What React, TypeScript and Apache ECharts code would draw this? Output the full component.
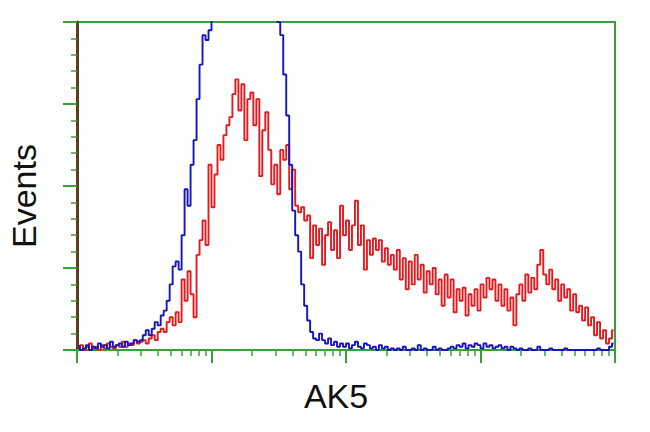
import React, { useEffect, useRef } from "react";
import * as echarts from "echarts";

// Histogram counts per channel bin (180 bins spread evenly over 4 log decades)
const redCounts = [
  1, 3, 0, 2, 4, 1, 2, 0, 3, 1, 4, 2, 1, 3, 2, 5, 2, 4, 3, 6, 4,
  5, 6, 4, 7, 9, 6, 11, 13, 11, 17,
  20, 15, 23, 17, 43, 30, 48, 34, 20, 58,
  67, 79, 64, 113, 87, 107, 125, 116, 131, 137,
  142, 156, 165, 146, 162, 128, 153, 157, 137, 153,
  106, 134, 145, 122, 101, 113, 95, 122, 116, 125,
  98, 110, 88, 84, 87, 79, 82, 56, 76, 64,
  74, 52, 70, 78, 61, 73, 56, 88, 70, 79,
  61, 76, 91, 64, 76, 49, 67, 58, 68, 61,
  67, 54, 62, 52, 58, 49, 61, 43, 56, 37,
  54, 40, 58, 43, 52, 35, 48, 40, 50, 34,
  43, 27, 46, 32, 43, 23, 37, 30, 38, 21,
  34, 27, 37, 24, 40, 32, 44, 37, 43, 30,
  40, 27, 37, 24, 32, 15, 34, 40, 30, 46,
  35, 44, 37, 52, 61, 46, 40, 49, 37, 43,
  30, 40, 32, 37, 24, 34, 23, 27, 18, 26,
  15, 20, 9, 17, 7, 12, 4, 7, 12,
];

const blueCounts = [
  2, 0, 1, 3, 0, 2, 1, 4, 2, 3, 1, 5, 2, 3, 4, 2, 5, 3, 4, 6, 5,
  6, 9, 12, 9, 13, 17, 15, 21, 24, 30,
  40, 51, 54, 49, 70, 98, 88, 113, 128, 153,
  174, 192, 189, 195, 204, 215, 225, 230, 240, 235,
  245, 250, 240, 248, 255, 250, 245, 252, 240, 245,
  238, 230, 235, 225, 220, 215, 200, 192, 168, 143,
  113, 85, 70, 60, 40, 27, 18, 11, 7, 6,
  10, 6, 4, 7, 3, 5, 2, 4, 2, 4,
  1, 3, 5, 2, 1, 4, 3, 1, 2, 0,
  3, 1, 2, 0, 1, 0, 1, 0, 2, 0,
  0, 1, 0, 3, 0, 1, 0, 0, 2, 0,
  1, 0, 0, 1, 2, 1, 3, 2, 4, 1,
  3, 2, 4, 3, 1, 4, 2, 3, 1, 2,
  3, 1, 2, 0, 2, 1, 0, 1, 0, 0,
  1, 0, 0, 2, 0, 0, 0, 1, 0, 0,
  0, 0, 1, 0, 0, 0, 0, 0, 0, 0,
  0, 0, 0, 1, 0, 0, 0, 2, 4,
];

const decadeTicks = [0, 1, 2, 3, 4];
const minorMultipliers = [2, 3, 4, 5, 6, 7, 8, 9];
const yMin = 0;
const yMax = 200;
const yInterval = 50;
const xTitle = "AK5";
const yTitle = "Events";

const GREEN = "#38a038";
const BROWN = "#5e4018";
const RED = "#e3191e";
const BLUE = "#1414c0";
const FONT = "'Liberation Sans', Arial, Helvetica, sans-serif";

function toPoints(counts: number[]) {
  const n = counts.length;
  const span = decadeTicks[decadeTicks.length - 1] - decadeTicks[0];
  return counts.map((v, i) => [decadeTicks[0] + ((i + 0.5) * span) / n, v]);
}

const minorTicks: number[] = [];
for (let d = 0; d < decadeTicks.length - 1; d++) {
  for (const k of minorMultipliers) minorTicks.push(decadeTicks[d] + Math.log10(k));
}

export default function App() {
  const ref = useRef<HTMLDivElement>(null);
  useEffect(() => {
    if (!ref.current) return;
    const chart = echarts.init(ref.current, undefined, { renderer: "svg" });
    const gridBox = { left: 77, right: 35, top: 22, bottom: 82 };
    chart.setOption({
      animation: false,
      backgroundColor: "#ffffff",
      grid: [
        { ...gridBox, show: true, borderColor: GREEN, borderWidth: 2, backgroundColor: "transparent" },
        { ...gridBox, show: false },
      ],
      xAxis: [
        {
          gridIndex: 0,
          type: "value",
          min: decadeTicks[0],
          max: decadeTicks[decadeTicks.length - 1],
          position: "bottom",
          axisLine: { show: true, lineStyle: { color: GREEN, width: 2 } },
          axisTick: { show: true, customValues: decadeTicks, length: 13, lineStyle: { color: GREEN, width: 2 } },
          axisLabel: { show: false },
          splitLine: { show: false },
        },
        {
          gridIndex: 1,
          type: "value",
          min: decadeTicks[0],
          max: decadeTicks[decadeTicks.length - 1],
          position: "bottom",
          axisLine: { show: false },
          axisTick: { show: true, customValues: minorTicks, length: 6, lineStyle: { color: GREEN, width: 1.5 } },
          axisLabel: { show: false },
          splitLine: { show: false },
        },
      ],
      yAxis: [
        {
          gridIndex: 0,
          type: "value",
          min: yMin,
          max: yMax,
          interval: yInterval,
          axisLine: { show: true, lineStyle: { color: BROWN, width: 3 } },
          axisTick: { show: true, length: 14, lineStyle: { color: GREEN, width: 2 } },
          minorTick: { show: true, splitNumber: 5, length: 6, lineStyle: { color: GREEN, width: 1.5 } },
          axisLabel: { show: false },
          splitLine: { show: false },
          minorSplitLine: { show: false },
        },
        { gridIndex: 1, type: "value", min: yMin, max: yMax, show: false },
      ],
      series: [
        {
          type: "line",
          xAxisIndex: 0,
          yAxisIndex: 0,
          step: "middle",
          showSymbol: false,
          symbol: "none",
          data: toPoints(redCounts),
          lineStyle: { color: RED, width: 1.9 },
          clip: true,
        },
        {
          type: "line",
          xAxisIndex: 0,
          yAxisIndex: 0,
          step: "middle",
          showSymbol: false,
          symbol: "none",
          data: toPoints(blueCounts),
          lineStyle: { color: BLUE, width: 1.9 },
          clip: true,
        },
      ],
      graphic: [
        {
          type: "text",
          x: 336,
          y: 396,
          style: { text: xTitle, fontSize: 34, fontFamily: FONT, fill: "#111", align: "center", verticalAlign: "middle" },
        },
        {
          type: "text",
          x: 24,
          y: 196,
          rotation: Math.PI / 2,
          style: { text: yTitle, fontSize: 34, fontFamily: FONT, fill: "#111", align: "center", verticalAlign: "middle" },
        },
      ],
    });
    return () => chart.dispose();
  }, []);
  return <div ref={ref} style={{ position: "fixed", left: 0, top: 0, width: 650, height: 432 }} />;
}
